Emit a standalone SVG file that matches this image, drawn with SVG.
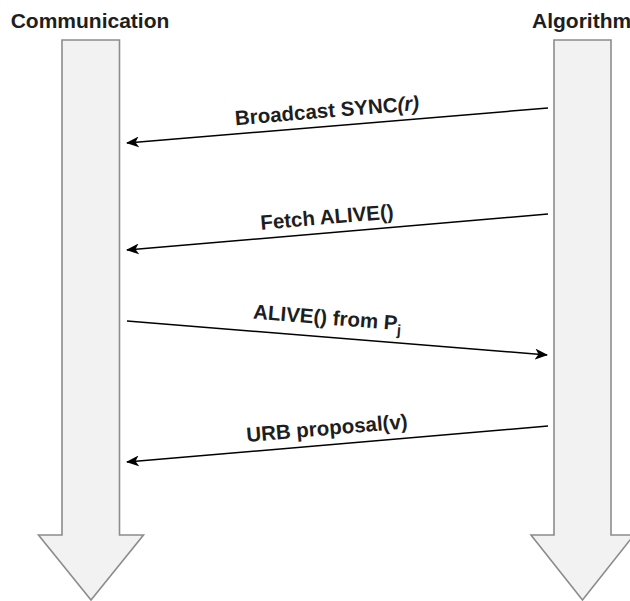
<svg xmlns="http://www.w3.org/2000/svg" width="630" height="601" viewBox="0 0 630 601">
  <style>
    .lane { fill: #f2f2f2; stroke: #8c8c8c; stroke-width: 1.6; stroke-linejoin: miter; }
    .title { font-family: "Liberation Sans", Arial, sans-serif; font-weight: bold; font-size: 21px; fill: #1e1e1e; }
    .label { font-family: "Liberation Sans", Arial, sans-serif; font-weight: bold; font-size: 20.5px; fill: #1e1e1e; text-anchor: middle; }
    .msg { fill: none; stroke: #000; stroke-width: 1.5; marker-end: url(#head); }
  </style>
  <defs>
    <marker id="head" viewBox="0 0 13 11" refX="12" refY="5.5" markerWidth="13" markerHeight="11" markerUnits="userSpaceOnUse" orient="auto">
      <path d="M0,0 L13,5.5 L0,11 L3.5,5.5 Z" fill="#000"/>
    </marker>
  </defs>

  <!-- Communication lifeline -->
  <g id="communication">
    <path class="lane" d="M62,40 H119.5 V535 H143.5 L91,600 L38.5,535 H62 Z"/>
    <text class="title" x="90" y="28" text-anchor="middle">Communication</text>
  </g>

  <!-- Algorithm lifeline -->
  <g id="algorithm">
    <path class="lane" d="M554,40 H611 V535 H634 L582.5,600 L531,535 H554 Z"/>
    <text class="title" x="532" y="28">Algorithm</text>
  </g>

  <!-- messages -->
  <g id="connectors">
    <line class="msg" x1="548" y1="108" x2="127" y2="143"/>
    <line class="msg" x1="548" y1="214" x2="127" y2="250"/>
    <line class="msg" x1="127" y1="321" x2="547" y2="355"/>
    <line class="msg" x1="548" y1="426" x2="127" y2="462"/>

    <text class="label" x="327.5" y="117.5" transform="rotate(-4.75 327.5 117.5)">Broadcast SYNC<tspan font-style="italic">(r)</tspan></text>
    <text class="label" x="327.5" y="224" transform="rotate(-4.9 327.5 224)">Fetch ALIVE()</text>
    <text class="label" x="327" y="324.5" transform="rotate(4.6 327 324.5)">ALIVE() from P<tspan font-size="15" dy="5">j</tspan></text>
    <text class="label" x="327.5" y="435" transform="rotate(-4.9 327.5 435)">URB proposal(v)</text>
  </g>
</svg>
